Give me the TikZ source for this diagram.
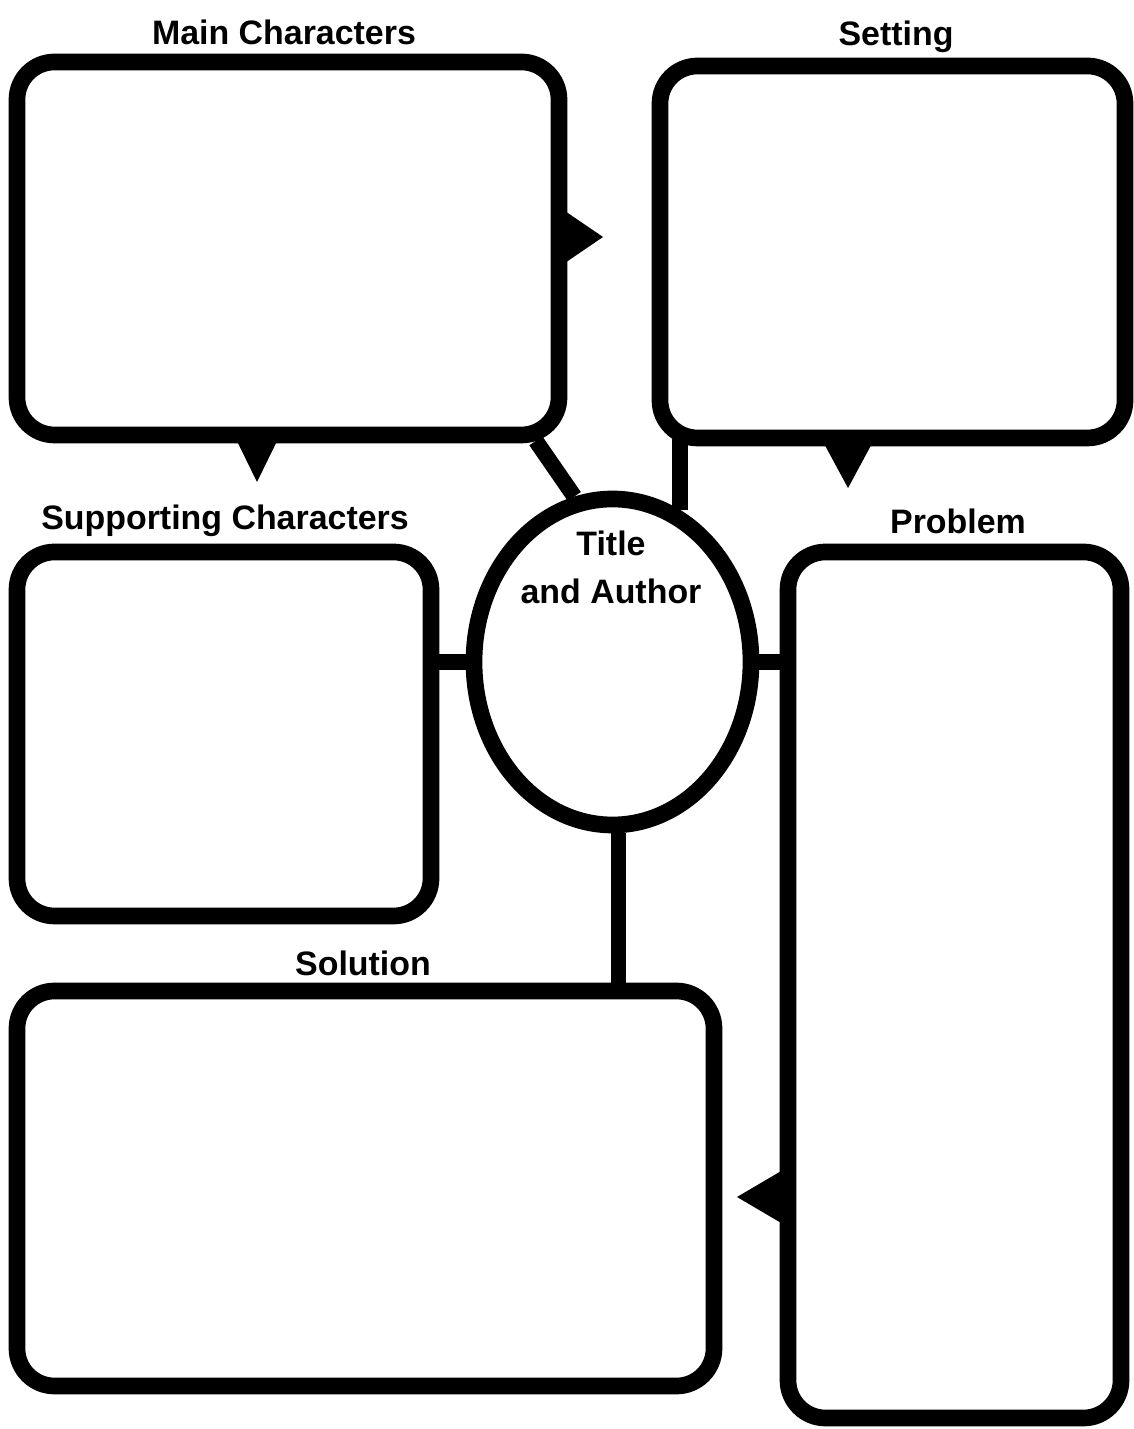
\documentclass[tikz,border=0pt]{standalone}
\usepackage{fontspec}
\setmainfont{Liberation Sans}
\usetikzlibrary{shapes}

\begin{document}
\begin{tikzpicture}[
	font=\bfseries\fontsize{19.3}{27}\selectfont
]
\tikzset{
    mybox/.style = {rectangle, draw=black, line width=9.5pt, rounded corners=0.75cm, inner sep=0pt},
    myoval/.style = {ellipse, draw=black, line width=9.5pt, inner sep=0pt, minimum width=5.54cm, minimum height=6.52cm},
    lbl/.style = {anchor=base, inner sep=0pt},
    link/.style = {-, line width=9pt},
    mytri/.style = {fill=black}
}
\useasboundingbox (0,0) rectangle (22.66,28.58);
\node[mybox, minimum width=10.84cm, minimum height=7.46cm] at (5.76,23.61) (mainc) {};
\node[mybox, minimum width=9.30cm, minimum height=7.44cm] at (17.85,23.54) (sett) {};
\node[mybox, minimum width=8.28cm, minimum height=7.28cm] at (4.48,13.90) (supp) {};
\node[mybox, minimum width=6.66cm, minimum height=17.32cm] at (19.09,8.88) (prob) {};
\node[mybox, minimum width=13.94cm, minimum height=7.90cm] at (7.31,4.81) (sol) {};
\node[myoval] at (12.25,15.34) (circ) {};
%
\node[lbl] at (5.68,27.68) (mainlbl) {Main Characters};
\node[lbl] at (17.92,27.66) (settlbl) {Setting};
\node[lbl] at (4.50,17.98) (supplbl) {Supporting Characters};
\node[lbl] at (19.16,17.90) (problbl) {Problem};
\node[lbl] at (7.26,9.06) (sollbl) {Solution};
\node[align=center, inner sep=0pt] at (12.22,17.23) (ttl) {Title\\and Author};
%
\draw[link] (circ.103) -- ([xshift=-0.63cm,yshift=0.05cm]mainc.south east);
\draw[link] (circ.66) -- ([yshift=0.15cm]circ.66 |- sett.south);
\draw[link] (circ.west) -- (circ.west -| supp.east);
\draw[link] (circ.east) -- (circ.east -| prob.west);
\draw[link] (circ.-88) -- (circ.-88 |- sol.north);
%
\fill[mytri] (11.18,24.44) -- (12.06,23.84) -- (11.18,23.24) -- cycle;
\fill[mytri] (4.68,19.88) -- (5.14,18.94) -- (5.60,19.88) -- cycle;
\fill[mytri] (16.42,19.82) -- (16.96,18.82) -- (17.50,19.82) -- cycle;
\fill[mytri] (15.76,5.24) -- (14.74,4.64) -- (15.76,4.04) -- cycle;
\end{tikzpicture}
\end{document}
